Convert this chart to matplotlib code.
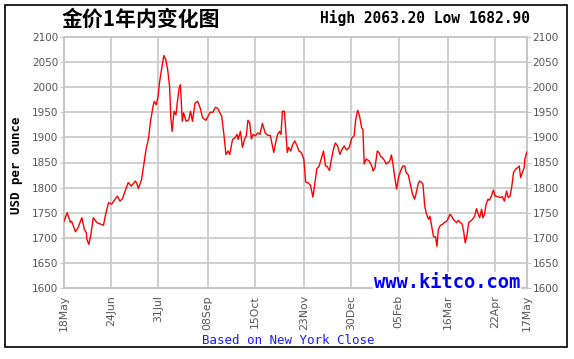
import matplotlib
matplotlib.use("Agg")
import matplotlib.pyplot as plt
from matplotlib.patches import Rectangle

# ---- data (day offset from 18 May 2020, USD per ounce) ----
days_a = [0, 2.5, 5, 6, 9, 11, 14, 16, 17.5, 18, 19.5, 21, 23, 26, 28, 31, 33, 35, 37.5, 39,
          42, 44, 46, 48, 50.5, 53, 56, 57, 58.5, 61, 63, 64.5, 66.5, 68, 70, 71, 72.5, 74,
          75, 77, 78.5, 80, 81.5, 83, 84, 85, 86.5, 88, 89, 90.5, 91.5, 93, 94, 96, 98, 99.5,
          101, 103, 105, 107, 109, 111.5]
vals_a = [1733, 1750, 1731, 1733, 1712, 1720, 1740, 1717, 1710, 1697, 1687, 1704, 1740, 1730,
          1728, 1725, 1750, 1770, 1767, 1773, 1783, 1773, 1778, 1793, 1810, 1803, 1813, 1810,
          1798, 1816, 1850, 1876, 1899, 1932, 1962, 1972, 1965, 1982, 2008, 2041, 2063, 2055,
          2035, 2002, 1939, 1912, 1952, 1945, 1968, 1998, 2005, 1932, 1949, 1932, 1935, 1952,
          1932, 1968, 1972, 1959, 1939, 1934]

days_b = [114.9, 117, 119, 120.8, 122.5, 124, 125.7, 127.3, 129, 130.3, 132.5, 134.4, 136, 137,
          138.7, 140.3, 141.9, 143.3, 144.6, 146, 147.3, 148.7, 150.5, 152.2, 154, 156, 158.1,
          160.3, 162.2, 163.6, 164.9, 166.3, 167.9, 169.5, 170.6, 171.7, 173.3, 174.4, 175.5,
          176.6, 178.2, 179.8, 181.4, 183.1, 184.7, 186.6, 188.5, 190, 192.1, 193.7, 195.7,
          197.3, 198.8, 200.4, 202.2, 204, 205.6, 206.9, 208.7, 210.3, 211.8, 213.3, 215.1,
          216.9, 218.5, 220.3, 222.1, 224.2, 226.3, 228.1, 229.3, 230.9, 232.4, 234, 235, 236,
          237.6]
vals_b = [1950, 1950, 1960, 1958, 1949, 1942, 1906, 1866, 1873, 1866, 1896, 1899, 1906, 1896,
          1912, 1880, 1896, 1903, 1934, 1929, 1897, 1906, 1903, 1909, 1906, 1928, 1909, 1904,
          1904, 1886, 1870, 1888, 1906, 1912, 1906, 1952, 1952, 1912, 1870, 1880, 1873, 1886,
          1893, 1884, 1873, 1870, 1857, 1811, 1809, 1805, 1781, 1811, 1838, 1842, 1857, 1873,
          1843, 1842, 1834, 1857, 1876, 1889, 1883, 1866, 1876, 1883, 1875, 1880, 1899, 1903,
          1935, 1954, 1942, 1919, 1916, 1847, 1857]

days_c = [239.9, 242, 243, 244.5, 246.3, 247.6, 248.9, 250.2, 251.7, 253.3, 254.8, 256.1,
          257.4, 258.6, 259.9, 261.5, 263, 264.6, 266.3, 267.9, 269, 270.7, 272.3, 274, 275.6,
          276.7, 278.4, 279.5, 280.8, 282.2, 283.6, 285, 286.6, 287.7, 289.1, 290.5, 292.1,
          293.2, 294.3, 296, 297.6, 299.3, 300.9, 302.3, 303.5, 305, 306, 307.6, 308.6, 310.1,
          311.6, 312.9, 314.2, 315.4, 316.7, 318.2, 319.7, 321.2, 322.8, 324.3, 325.5, 326.8,
          328.3, 329.3, 330.6, 331.9, 333.4, 334.4, 336, 337.5, 339, 341, 342.9, 344.6, 346.2,
          347.9, 349.3, 350.7, 352.1, 353.4, 355.1, 356.8, 357.9, 359, 360.4, 361.8, 362.3,
          363.4, 364]
vals_c = [1853, 1843, 1833, 1840, 1873, 1870, 1862, 1860, 1855, 1847, 1850, 1853, 1865, 1847,
          1823, 1797, 1820, 1833, 1843, 1843, 1830, 1825, 1807, 1787, 1777, 1787, 1807, 1813,
          1811, 1807, 1763, 1747, 1737, 1743, 1723, 1702, 1702, 1683, 1717, 1725, 1727, 1731,
          1733, 1740, 1747, 1742, 1737, 1733, 1730, 1735, 1730, 1728, 1713, 1690, 1703, 1731,
          1733, 1737, 1743, 1758, 1748, 1740, 1757, 1740, 1747, 1767, 1777, 1775, 1783, 1795,
          1783, 1782, 1780, 1782, 1773, 1793, 1780, 1783, 1803, 1830, 1837, 1840, 1843, 1820,
          1830, 1840, 1857, 1867, 1871]

tick_days = [0, 37, 74, 113, 150, 189, 226, 263, 302, 339, 364]
tick_labels = ["18May", "24Jun", "31Jul", "08Sep", "15Oct", "23Nov", "30Dec",
               "05Feb", "16Mar", "22Apr", "17May"]
y_ticks = [1600, 1650, 1700, 1750, 1800, 1850, 1900, 1950, 2000, 2050, 2100]

title = "金价1年内变化图"
hi_lo = "High 2063.20 Low 1682.90"

days = days_a + days_b + days_c
vals = vals_a + vals_b + vals_c

W, H = 574, 359
fig = plt.figure(figsize=(W / 100, H / 100), dpi=100)
fig.patch.set_facecolor("white")

ax = fig.add_axes([64 / W, 1 - 288 / H, (527 - 64) / W, (288 - 37) / H])
ax.plot(days, vals, color="#ff0000", lw=1.0, zorder=3)
ax.set_xlim(0, 364)
ax.set_ylim(1600, 2100)
ax.set_xticks(tick_days)
ax.set_xticklabels(tick_labels, rotation=90, fontsize=7.8, color="#555555",
                   family="DejaVu Sans")
ax.set_yticks(y_ticks)
ax.set_yticklabels([str(v) for v in y_ticks], fontsize=7.5, color="#555555",
                   family="DejaVu Sans")
ax.tick_params(axis="y", which="both", left=True, right=True, labelleft=True,
               labelright=True, length=3, color="#c8c8c8", pad=1)
ax.tick_params(axis="x", length=0, pad=5)
ax.grid(True, color="#cccccc", lw=1.3, zorder=0)
for s in ax.spines.values():
    s.set_color("#c8c8c8")
    s.set_linewidth(1.5)

fig.text(62 / W, 1 - 19 / H, title, fontsize=15, fontweight="bold",
         family=["Noto Sans CJK SC", "DejaVu Sans"], va="center", ha="left")
fig.text(530 / W, 1 - 18 / H, hi_lo, fontsize=10.5, fontweight="bold",
         family="DejaVu Sans Mono", va="center", ha="right")
fig.text(17 / W, 1 - 165 / H, "USD per ounce", fontsize=9, fontweight="bold",
         family="DejaVu Sans Mono", rotation=90, va="center", ha="center")
fig.text(520 / W, 1 - 282 / H, "www.kitco.com", fontsize=13.5, fontweight="bold",
         family="DejaVu Sans Mono", color="#0000ff", va="center", ha="right",
         bbox=dict(facecolor="white", edgecolor="none", pad=0.5), zorder=5)
fig.text(288 / W, 1 - 341 / H, "Based on New York Close", fontsize=9,
         family="DejaVu Sans Mono", color="#1a1aff", va="center", ha="center")

fig.add_artist(Rectangle((5 / W, 1 - 347 / H), (567 - 5) / W, (347 - 5) / H,
                         transform=fig.transFigure, fill=False, edgecolor="black",
                         lw=1.2))

fig.savefig("out.png", dpi=100)
